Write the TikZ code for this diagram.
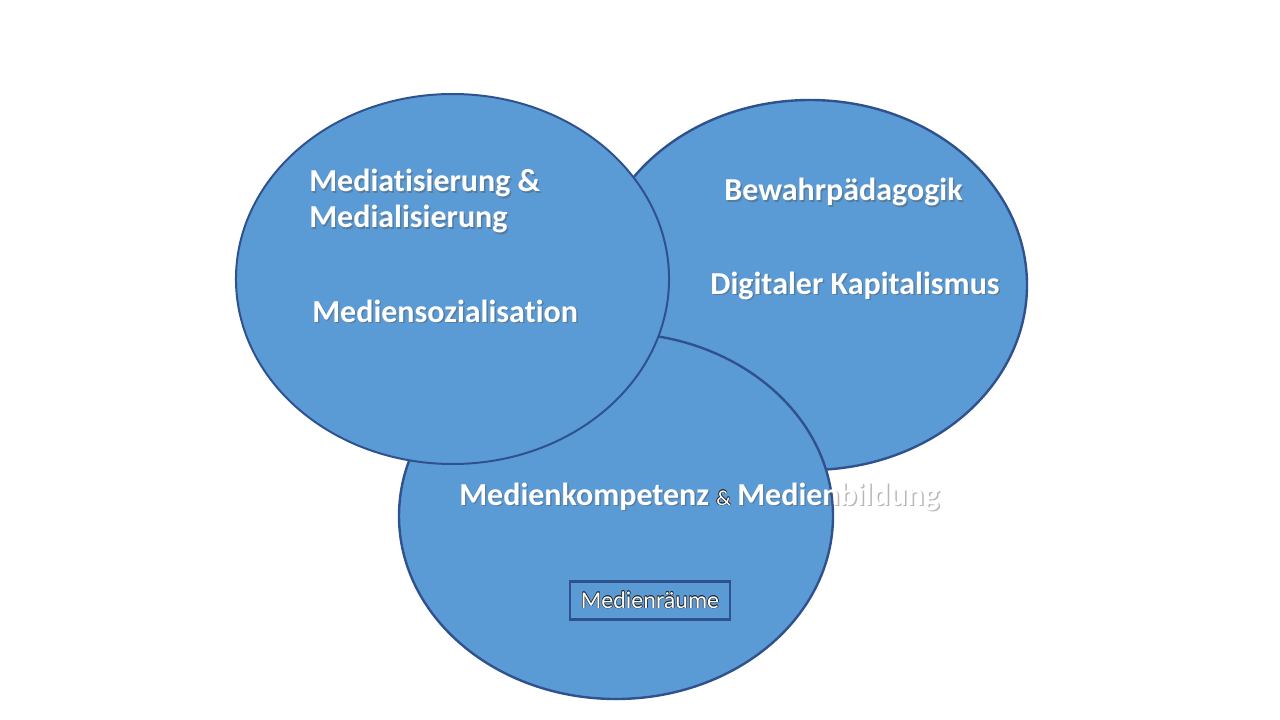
\documentclass[tikz,border=0pt]{standalone}
\usepackage{fontspec}
\setmainfont{Carlito}[RawFeature={-liga;-dlig;-calt}]
\definecolor{fillblue}{HTML}{5B9BD5}
\definecolor{edgeblue}{HTML}{2F528F}
\newcommand\nolig{\kern0pt{}}
\tikzset{
  bubble/.style={fill=fillblue, draw=edgeblue, line width=1.8pt},
  maintxt/.style={text=white, font=\fontsize{24}{29}\selectfont\bfseries, inner sep=0pt},
  shadowtxt/.style={maintxt, text=black!70, opacity=0.4, xshift=1.1pt, yshift=-1.3pt},
  outltxt/.style={text=black!85, inner sep=0pt},
  framebox/.style={draw=edgeblue, line width=2.2pt, minimum width=120pt, minimum height=29pt, inner sep=0pt}
}
\newcommand\shnode[4]{%
  \node[shadowtxt, anchor=#2] (#1s) at #3 {#4};
  \node[maintxt, anchor=#2] (#1) at #3 {#4};}
\newcommand\olnode[5]{% name, anchor, pos, font, text
  \foreach \dx/\dy [count=\i] in {0.4/0,-0.4/0,0/0.4,0/-0.4,0.28/0.28,-0.28/0.28,0.28/-0.28,-0.28/-0.28}
    \node[outltxt, font=#4, anchor=#2, xshift=\dx pt, yshift=\dy pt] (#1o\i) at #3 {#5};
  \node[inner sep=0pt, text=white, font=#4, anchor=#2] (#1) at #3 {#5};}
\begin{document}
\begin{tikzpicture}[x=0.75pt,y=-0.75pt]
\useasboundingbox (0,0) rectangle (1280,720);
\fill[white] (0,0) rectangle (1280,720);
% ellipses
\draw[bubble] (810,285) ellipse [x radius=162.75pt, y radius=138.75pt];
\draw[bubble] (616,516) ellipse [x radius=162.75pt, y radius=137.25pt];
\draw[bubble, line width=1.5pt] (452.5,279) ellipse [x radius=162.4pt, y radius=138.75pt];
% left texts
\shnode{mat}{base west}{(309,192)}{Mediat\nolig isierung \&}
\shnode{mal}{base west}{(309,228)}{Medialisierung}
\shnode{mso}{base west}{(312,322)}{Mediensozialisat\nolig ion}
% right texts
\shnode{bew}{base}{(843.5,201)}{Bewahrpädagogik}
\shnode{dig}{base}{(855,294)}{Digitaler Kapitalismus}
% bottom texts
\shnode{mko}{base west}{(459,505)}{Medienkompetenz}
\olnode{amp}{base west}{(716,505)}{\fontsize{16}{19}\selectfont}{\&}
\shnode{mbi}{base west}{(737,505)}{Medienbildung}
% box
\node[framebox] (box) at (650,600.5) {};
\olnode{mra}{base}{(650,608)}{\fontsize{18}{22}\selectfont}{Medienräume}
\end{tikzpicture}
\end{document}
